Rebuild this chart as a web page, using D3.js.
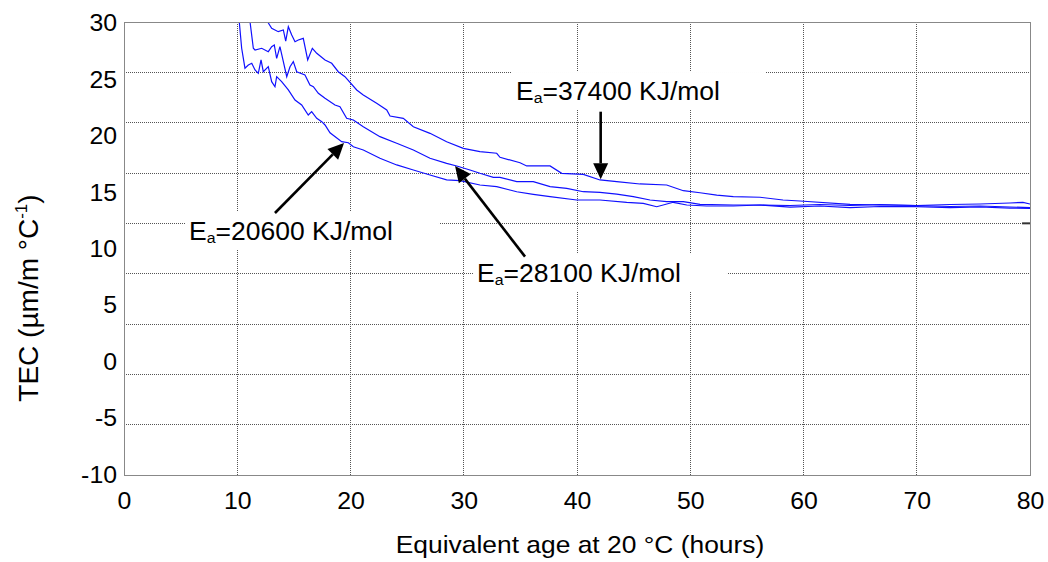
<!DOCTYPE html>
<html><head><meta charset="utf-8">
<script src="https://cdn.jsdelivr.net/npm/d3@7"></script>
<style>
body{margin:0;background:#fff}
svg{display:block}
text{font-family:"Liberation Sans",Arial,sans-serif;fill:#000}
</style>
</head><body>
<svg id="c" width="1048" height="562"></svg>
<script>
// ---- data ----
const xTicks = [0,10,20,30,40,50,60,70,80];
const yLabels = [30,25,20,15,10,5,0,-5,-10];
const yGrid = [30,25,20,15,10,5,0,-5,-10,-15];

const ea20600 = [[10.18,30.0],[10.39,27.39],[10.68,25.41],[10.98,25.73],[11.28,25.90],[11.57,25.23],[11.86,24.90],[12.10,26.23],[12.30,25.06],[12.74,25.56],[13.04,24.07],[13.33,23.57],[13.48,24.57],[13.92,24.07],[14.51,23.25],[15.10,22.25],[15.69,21.76],[16.27,20.76],[16.57,21.09],[17.02,20.43],[17.46,20.10],[17.75,19.77],[18.19,19.00],[19.22,18.11],[19.81,18.01],[20.25,17.61],[21.13,17.29],[22.60,16.46],[24.08,15.80],[25.55,15.30],[27.02,14.80],[28.49,14.31],[29.67,14.24],[31.43,13.81],[32.91,13.64],[34.08,13.31],[34.68,13.14],[36.14,12.88],[37.62,12.65],[39.97,12.32],[42.03,12.32],[44.39,12.09],[45.85,11.99],[47.04,11.65],[48.50,12.09],[49.69,11.82],[51.45,11.72],[53.80,11.72],[56.16,11.82],[58.81,11.62],[61.46,11.72],[64.11,11.57],[66.75,11.67],[70.0,11.65],[72.94,11.57],[75.59,11.62],[78.23,11.52],[80,11.49]];

const ea28100 = [[11.13,30.0],[11.42,27.39],[11.57,27.22],[12.16,27.39],[12.74,27.05],[13.04,27.55],[13.27,27.72],[13.48,26.39],[13.77,27.55],[14.07,26.06],[14.37,24.57],[14.66,25.56],[14.95,26.06],[15.25,25.06],[15.98,24.74],[16.42,23.74],[16.72,23.57],[17.16,22.92],[17.75,22.42],[18.63,21.76],[19.07,21.59],[19.66,20.43],[20.25,20.27],[21.13,19.60],[22.60,18.61],[24.08,17.95],[25.55,17.29],[27.02,16.46],[28.49,15.96],[29.38,15.70],[30.55,15.30],[31.43,14.97],[32.61,14.57],[33.20,14.57],[34.68,14.14],[36.14,14.14],[37.62,13.64],[39.09,13.48],[40.56,13.14],[42.03,13.08],[43.51,12.91],[44.97,12.65],[46.45,12.32],[47.92,12.15],[49.39,12.15],[50.86,11.89],[53.80,11.82],[56.16,11.82],[58.81,11.77],[61.46,11.87],[64.11,11.77],[66.75,11.87],[70.0,11.77],[72.94,11.67],[75.59,11.72],[78.23,11.62],[80,11.57]];

const ea37400 = [[12.69,30.0],[13.04,29.37],[13.62,29.04],[14.07,29.21],[14.28,28.11],[14.51,29.53],[14.81,28.71],[15.10,28.04],[15.39,28.21],[15.83,28.38],[16.22,26.23],[16.63,27.39],[17.02,26.89],[17.75,26.23],[18.34,25.90],[18.92,25.06],[19.51,24.57],[20.55,23.25],[21.13,22.75],[22.31,21.92],[23.20,21.26],[23.49,20.66],[24.66,20.43],[25.55,19.60],[27.02,18.94],[28.49,18.11],[29.96,17.45],[31.43,17.12],[32.91,16.96],[33.20,16.56],[34.97,16.02],[35.56,15.70],[37.62,15.70],[38.65,14.97],[40.56,14.87],[42.03,14.31],[43.51,14.14],[45.56,13.91],[47.92,13.81],[49.39,13.24],[50.86,13.04],[52.34,12.81],[53.80,12.65],[56.16,12.59],[58.19,12.32],[59.69,12.22],[64.11,11.89],[66.75,11.82],[70.0,11.77],[72.94,11.87],[75.59,11.92],[78.23,12.02],[79.38,12.09],[80,11.92]];

const seriesList = [ea20600, ea28100, ea37400];

// annotations: label text, text anchor (left, baseline), arrow tail, arrow tip (data units)
const annLabels = ["=20600 KJ/mol","=28100 KJ/mol","=37400 KJ/mol"];
const annText = [[5.74,8.35],[31.17,4.17],[34.61,22.25]];
const annTail = [[13.33,11.03],[35.41,6.69],[42.09,21.09]];
const annTip  = [[19.43,17.98],[29.23,15.70],[42.09,14.37]];

// ---- scales ----
const svg = d3.select("#c");
svg.append("rect").attr("width",1048).attr("height",562).attr("fill","#fff");
const x = d3.scaleLinear().domain([0,80]).range([124,1030]);
const y = d3.scaleLinear().domain([-15,30]).range([475,22]);
const yLab = d3.scaleLinear().domain([-10,30]).range([474,22.5]);
const SX = 1.08;
const fmt = d => String(d);

// gridlines
const grid = svg.append("g");
grid.selectAll("line.h").data(yGrid).join("line")
  .attr("x1",x(0)).attr("x2",x(80)).attr("y1",d=>y(d)).attr("y2",d=>y(d))
  .attr("stroke","#555").attr("stroke-width",1).attr("stroke-dasharray","1,1")
  .attr("shape-rendering","crispEdges");
grid.selectAll("line.v").data(xTicks).join("line")
  .attr("x1",d=>x(d)).attr("x2",d=>x(d)).attr("y1",y(30)).attr("y2",y(-15))
  .attr("stroke","#555").attr("stroke-width",1).attr("stroke-dasharray","1,1")
  .attr("shape-rendering","crispEdges");

// annotation white boxes (drawn under curves)
const boxG = svg.append("g");

// curves
svg.append("clipPath").attr("id","clip").append("rect")
  .attr("x",x(0)).attr("y",y(30)).attr("width",x(80)-x(0)).attr("height",y(-15)-y(30));
const line = d3.line().x(d=>x(d[0])).y(d=>y(d[1]));
svg.append("g").attr("clip-path","url(#clip)")
  .selectAll("path").data(seriesList).join("path")
  .attr("d",line).attr("fill","none").attr("stroke","#1010ff").attr("stroke-width",1.2);

// small right-edge tick
svg.append("line").attr("x1",x(79.3)).attr("x2",x(80)).attr("y1",y(10)).attr("y2",y(10))
  .attr("stroke","#333").attr("stroke-width",2);

// axes labels
const xAxis = svg.append("g").attr("transform",`translate(0,${y(-15)})`)
  .call(d3.axisBottom(x).tickValues(xTicks).tickSize(0).tickFormat(fmt));
xAxis.select(".domain").remove();
xAxis.selectAll("text").attr("y",34).attr("dy",0).attr("font-size",23)
  .attr("font-family","Liberation Sans, Arial, sans-serif").attr("fill","#000")
  .attr("transform",`scale(${SX},1)`);

const yAxis = svg.append("g").attr("transform","translate(117,0)")
  .call(d3.axisLeft(yLab).tickValues(yLabels).tickSize(0).tickFormat(fmt));
yAxis.select(".domain").remove();
yAxis.selectAll("text").attr("x",0).attr("dy","0.36em").attr("font-size",23)
  .attr("font-family","Liberation Sans, Arial, sans-serif").attr("fill","#000")
  .attr("transform",`scale(${SX},1)`);

// axis titles
svg.append("text").attr("transform",`translate(${(x(0)+x(80))/2+3},553) scale(1.1,1)`)
  .attr("text-anchor","middle").attr("font-size",24)
  .text("Equivalent age at 20 \u00B0C (hours)");
const yt = svg.append("text").attr("transform","translate(38,298) rotate(-90)")
  .attr("text-anchor","middle").attr("font-size",28);
yt.append("tspan").text("TEC (\u00B5m/m \u00B0C");
yt.append("tspan").attr("font-size",17).attr("dy",-11).text("-1");
yt.append("tspan").attr("dy",11).text(")");

// border
svg.append("rect").attr("x",x(0)).attr("y",y(30)).attr("width",x(80)-x(0)).attr("height",y(-15)-y(30))
  .attr("fill","none").attr("stroke","#888").attr("stroke-width",1).attr("shape-rendering","crispEdges");

// annotations
const AS = 1.06;
annLabels.forEach((lab,i)=>{
  const tx = x(annText[i][0]), ty = y(annText[i][1]);
  const r = boxG.append("rect").attr("fill","#fff");
  const t = svg.append("text").attr("transform",`translate(${tx},${ty}) scale(${AS},1)`).attr("font-size",25);
  t.append("tspan").text("E");
  t.append("tspan").attr("font-size",15).attr("dy",3).text("a");
  t.append("tspan").attr("dy",-3).text(lab);
  const bb = t.node().getBBox();
  r.attr("x",tx+bb.x*AS-4).attr("y",ty-28).attr("width",bb.width*AS+50).attr("height",38);
  // arrow
  const x1=x(annTail[i][0]), y1=y(annTail[i][1]), x2=x(annTip[i][0]), y2=y(annTip[i][1]);
  const ang=Math.atan2(y2-y1,x2-x1), L=16, W=7.5;
  const bx=x2-L*Math.cos(ang), by=y2-L*Math.sin(ang);
  svg.append("line").attr("x1",x1).attr("y1",y1).attr("x2",bx).attr("y2",by)
    .attr("stroke","#000").attr("stroke-width",2.6);
  svg.append("path").attr("d",
    `M${x2},${y2}L${bx+W*Math.sin(ang)},${by-W*Math.cos(ang)}L${bx-W*Math.sin(ang)},${by+W*Math.cos(ang)}Z`)
    .attr("fill","#000");
});
</script>
</body></html>
